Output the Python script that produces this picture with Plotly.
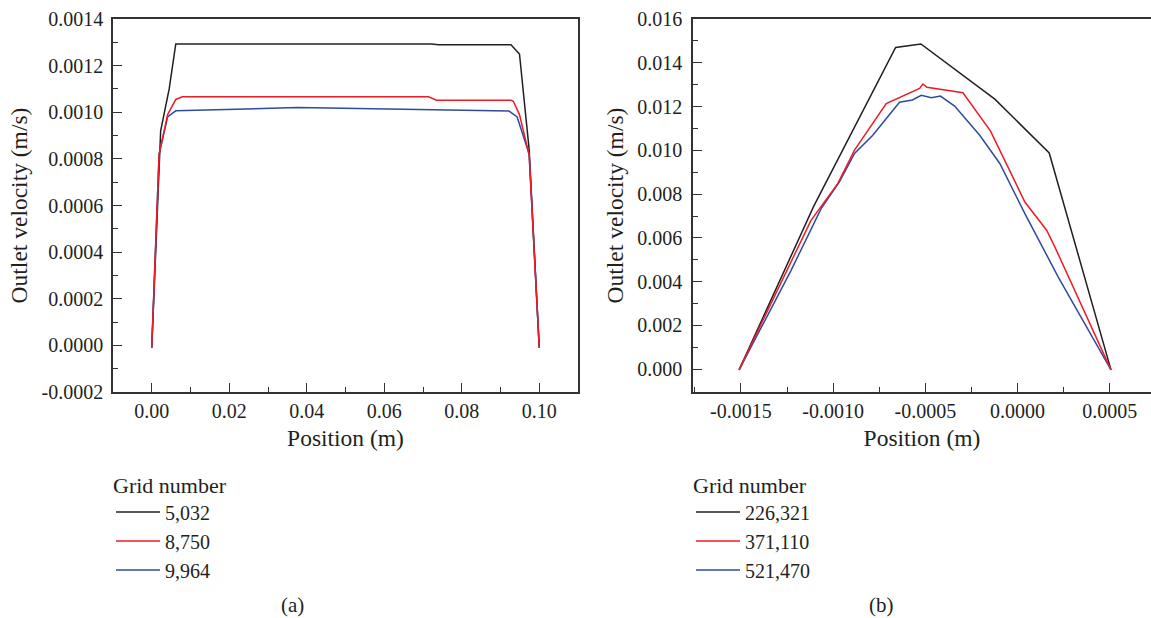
import plotly.graph_objects as go

# ---- (a) outlet velocity profiles, coarse meshes ----
pos_a_5032 = [0.0, 0.0019, 0.0023, 0.0045, 0.0062, 0.0722, 0.0740, 0.0927, 0.0949, 0.0974, 0.1]
vel_a_5032 = [-0.00001, 0.00082, 0.00092, 0.0011, 0.001293, 0.001293, 0.00129, 0.00129, 0.00125, 0.00084, -0.00001]

pos_a_8750 = [0.0, 0.0019, 0.0041, 0.0062, 0.0079, 0.0714, 0.0735, 0.0927, 0.0933, 0.0949, 0.0974, 0.1]
vel_a_8750 = [-0.00001, 0.00082, 0.00099, 0.001055, 0.001066, 0.001066, 0.001052, 0.001052, 0.001047, 0.00099, 0.000816, -0.00001]

pos_a_9964 = [0.0, 0.0019, 0.0041, 0.0062, 0.0376, 0.0720, 0.0922, 0.0943, 0.0974, 0.1]
vel_a_9964 = [-0.00001, 0.00082, 0.00098, 0.001006, 0.00102, 0.00101, 0.001005, 0.00098, 0.00082, -0.00001]

# ---- (b) outlet velocity profiles, fine meshes ----
pos_b_226321 = [-0.00151, -0.001105, -0.000661, -0.000524, -0.000123, 0.000172, 0.000507]
vel_b_226321 = [-0.00003, 0.00745, 0.0147, 0.01486, 0.01234, 0.00988, -0.00003]

pos_b_371110 = [-0.00151, -0.00112, -0.000975, -0.000884, -0.000712, -0.000531, -0.000513,
                -0.000491, -0.000296, -0.000147, 0.00004, 0.000158, 0.000203, 0.000507]
vel_b_371110 = [-0.00003, 0.0068, 0.00848, 0.01001, 0.01214, 0.01283, 0.01303,
                0.01288, 0.01263, 0.01089, 0.00764, 0.00635, 0.00558, -0.00003]

pos_b_521470 = [-0.00151, -0.001228, -0.001065, -0.000966, -0.000884, -0.000785, -0.00064,
                -0.00057, -0.000522, -0.000467, -0.000418, -0.000341, -0.000205, -0.000096,
                0.00004, 0.000221, 0.000507]
vel_b_521470 = [-0.00003, 0.00452, 0.00734, 0.00856, 0.00986, 0.01069, 0.0122,
                0.0123, 0.01251, 0.0124, 0.01248, 0.01202, 0.01069, 0.0094,
                0.00711, 0.00421, -0.00003]

# ---- tick labels ----
xticks_a = [0.0, 0.02, 0.04, 0.06, 0.08, 0.10]
xticktext_a = ["0.00", "0.02", "0.04", "0.06", "0.08", "0.10"]
yticks_a = [-0.0002, 0.0, 0.0002, 0.0004, 0.0006, 0.0008, 0.0010, 0.0012, 0.0014]
yticktext_a = ["-0.0002", "0.0000", "0.0002", "0.0004", "0.0006", "0.0008", "0.0010", "0.0012", "0.0014"]

xticks_b = [-0.0015, -0.0010, -0.0005, 0.0, 0.0005]
xticktext_b = ["-0.0015", "-0.0010", "-0.0005", "0.0000", "0.0005"]
yticks_b = [0.0, 0.002, 0.004, 0.006, 0.008, 0.010, 0.012, 0.014, 0.016]
yticktext_b = ["0.000", "0.002", "0.004", "0.006", "0.008", "0.010", "0.012", "0.014", "0.016"]

BLACK = "#231f20"
RED = "#ed1c24"
BLUE = "#2e4c9e"
FONT = "Liberation Serif, Times New Roman, serif"
TEXT = "#231f20"
AXIS = "#333333"

W, H = 1151, 618

fig = go.Figure()

series = [
    ("5,032", pos_a_5032, vel_a_5032, BLACK, "x", "y", "legend", 1),
    ("9,964", pos_a_9964, vel_a_9964, BLUE, "x", "y", "legend", 3),
    ("8,750", pos_a_8750, vel_a_8750, RED, "x", "y", "legend", 2),
    ("226,321", pos_b_226321, vel_b_226321, BLACK, "x2", "y2", "legend2", 1),
    ("521,470", pos_b_521470, vel_b_521470, BLUE, "x2", "y2", "legend2", 3),
    ("371,110", pos_b_371110, vel_b_371110, RED, "x2", "y2", "legend2", 2),
]
for name, xs, ys, col, xa, ya, lg, rank in series:
    fig.add_trace(go.Scatter(
        x=xs, y=ys, mode="lines", name=name,
        line=dict(color=col, width=1.5),
        xaxis=xa, yaxis=ya, legend=lg, legendrank=rank,
    ))

ydom = [1 - 392 / H, 1 - 19 / H]
tickfont = dict(family=FONT, size=20, color=TEXT)
titlefont = dict(family=FONT, size=23.5, color=TEXT)
legfont = dict(family=FONT, size=20, color=TEXT)
legtitlefont = dict(family=FONT, size=22, color=TEXT)


def axis_style(**kw):
    base = dict(
        showline=True, linecolor=AXIS, linewidth=1.6,
        ticks="inside", ticklen=9, tickwidth=1.4, tickcolor=AXIS,
        showgrid=False, zeroline=False, tickfont=tickfont,
        tickmode="array", automargin=False,
    )
    base.update(kw)
    return base


def minor_ticks(t0, dt):
    return dict(tickmode="linear", tick0=t0, dtick=dt, ticks="inside", ticklen=5,
                tickwidth=1.2, tickcolor=AXIS, showgrid=False)


fig.update_layout(
    width=W, height=H,
    margin=dict(l=0, r=0, t=0, b=0),
    paper_bgcolor="white", plot_bgcolor="white",
    font=dict(family=FONT, color=TEXT),
    xaxis=axis_style(
        domain=[113 / W, 578 / W], anchor="y", range=[-0.01, 0.11], mirror=True,
        tickvals=xticks_a, ticktext=xticktext_a, minor=minor_ticks(0.0, 0.01),
        title=dict(text="Position (m)", font=titlefont, standoff=9),
    ),
    yaxis=axis_style(
        domain=ydom, anchor="x", range=[-0.0002, 0.0014], mirror=True,
        tickvals=yticks_a, ticktext=yticktext_a, minor=minor_ticks(-0.0001, 0.0002),
        ticklabelstandoff=4,
        title=dict(text="Outlet velocity (m/s)", font=titlefont, standoff=7),
    ),
    xaxis2=axis_style(
        domain=[693 / W, 1.0], anchor="y2", range=[-0.00176, 0.000724], mirror=True,
        tickvals=xticks_b, ticktext=xticktext_b, minor=minor_ticks(-0.00125, 0.0005),
        title=dict(text="Position (m)", font=titlefont, standoff=9),
    ),
    yaxis2=axis_style(
        domain=ydom, anchor="x2", range=[-0.00104, 0.016], mirror=False,
        tickvals=yticks_b, ticktext=yticktext_b, minor=minor_ticks(0.001, 0.002),
        ticklabelstandoff=5,
        title=dict(text="Outlet velocity (m/s)", font=titlefont, standoff=7),
    ),
    legend=dict(
        x=111 / W, y=1 - 464 / H, xanchor="left", yanchor="top",
        title=dict(text="Grid number", font=legtitlefont),
        font=legfont, bgcolor="rgba(0,0,0,0)", tracegroupgap=0, itemwidth=44,
    ),
    legend2=dict(
        x=691 / W, y=1 - 464 / H, xanchor="left", yanchor="top",
        title=dict(text="Grid number", font=legtitlefont),
        font=legfont, bgcolor="rgba(0,0,0,0)", tracegroupgap=0, itemwidth=44,
    ),
    showlegend=True,
    annotations=[
        dict(text="(a)", x=292 / W, y=1 - 605 / H, xref="paper", yref="paper",
             xanchor="center", yanchor="middle", showarrow=False,
             font=dict(family=FONT, size=21, color=TEXT)),
        dict(text="(b)", x=881 / W, y=1 - 605 / H, xref="paper", yref="paper",
             xanchor="center", yanchor="middle", showarrow=False,
             font=dict(family=FONT, size=21, color=TEXT)),
    ],
)

fig.write_html("out.html")
